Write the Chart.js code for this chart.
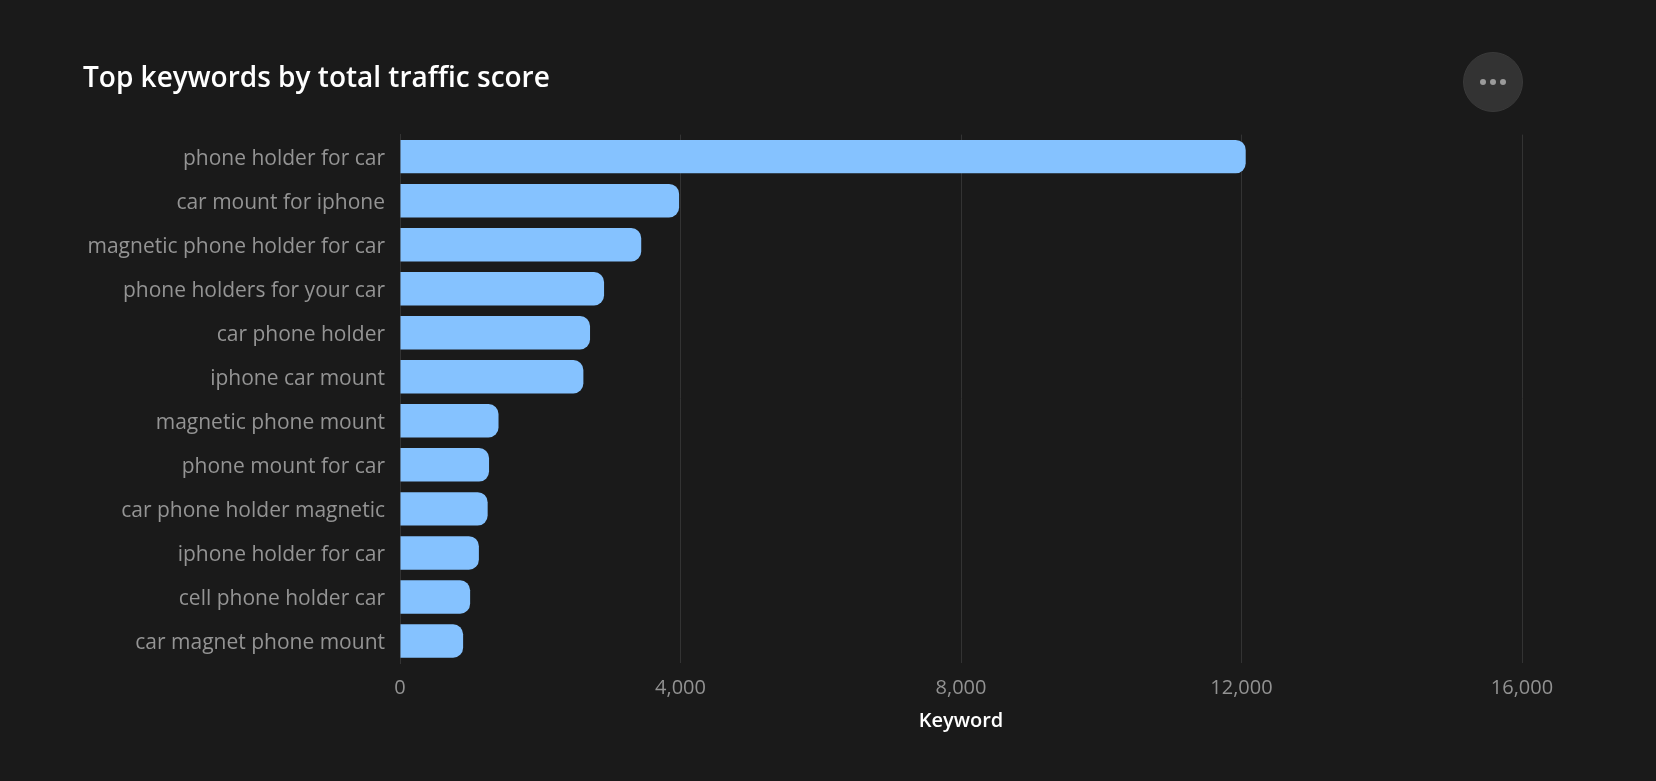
<!DOCTYPE html>
<html>
<head>
<meta charset="utf-8">
<script src="https://cdn.jsdelivr.net/npm/chart.js@4"></script>
<style>
  html, body { margin: 0; padding: 0; background: #1a1a1a; }
  #wrap { position: relative; width: 1656px; height: 781px; }
  #c { position: absolute; left: 0; top: 0; }
  #more { position: absolute; left: 1463px; top: 52px; width: 60px; height: 60px; border-radius: 50%;
          background: #333333; border: 1px solid #3a3a3a; box-sizing: border-box;
          display: flex; align-items: center; justify-content: center; gap: 4px; }
  #more span { width: 6px; height: 6px; border-radius: 50%; background: #9a9a9a; display: block; }
</style>
</head>
<body>
<div id="wrap">
  <canvas id="c" width="1656" height="781"></canvas>
  <div id="more"><span></span><span></span><span></span></div>
</div>
<script>
const categories = [
  "phone holder for car",
  "car mount for iphone",
  "magnetic phone holder for car",
  "phone holders for your car",
  "car phone holder",
  "iphone car mount",
  "magnetic phone mount",
  "phone mount for car",
  "car phone holder magnetic",
  "iphone holder for car",
  "cell phone holder car",
  "car magnet phone mount"
];
const trafficScores = [12060, 3980, 3440, 2910, 2710, 2615, 1405, 1270, 1250, 1125, 1000, 900];
const xTickValues = [0, 4000, 8000, 12000, 16000];
const chartTitle = "Top keywords by total traffic score";
const xAxisTitle = "Keyword";

const FONT = "'Segoe UI', 'Open Sans', sans-serif";

new Chart(document.getElementById('c'), {
  type: 'bar',
  data: {
    labels: categories,
    datasets: [{
      label: 'Traffic score',
      data: trafficScores,
      backgroundColor: '#85c2ff',
      borderRadius: 10,
      borderSkipped: 'start',
      categoryPercentage: 1,
      barPercentage: 0.76
    }]
  },
  options: {
    indexAxis: 'y',
    responsive: false,
    animation: false,
    devicePixelRatio: 1,
    layout: { padding: { left: 83, right: 134, top: 40, bottom: 48 } },
    plugins: {
      legend: { display: false },
      tooltip: { enabled: false },
      title: {
        display: true,
        text: chartTitle,
        align: 'start',
        color: '#ffffff',
        font: { family: FONT, size: 28, weight: '600' },
        padding: { top: 22, bottom: 39 }
      }
    },
    scales: {
      x: {
        min: 0,
        max: 16000,
        afterBuildTicks: (axis) => { axis.ticks = xTickValues.map(v => ({ value: v })); },
        afterFit: (axis) => { axis.height = 70; },
        grid: { color: '#333333', drawTicks: false, lineWidth: 1 },
        border: { display: false },
        ticks: {
          color: '#929292',
          padding: 13,
          font: { family: FONT, size: 20 },
          callback: (v) => Number(v).toLocaleString('en-US')
        },
        title: {
          display: true,
          text: xAxisTitle,
          color: '#ffffff',
          font: { family: FONT, size: 20, weight: '600' },
          padding: { top: 9, bottom: 0 }
        }
      },
      y: {
        grid: { display: false, drawTicks: false },
        border: { display: true, color: '#333333' },
        ticks: {
          color: '#949494',
          padding: 15,
          labelOffset: 2,
          font: { family: FONT, size: 21 }
        },
        afterFit: (axis) => { axis.width = 317; }
      }
    }
  }
});
</script>
</body>
</html>
